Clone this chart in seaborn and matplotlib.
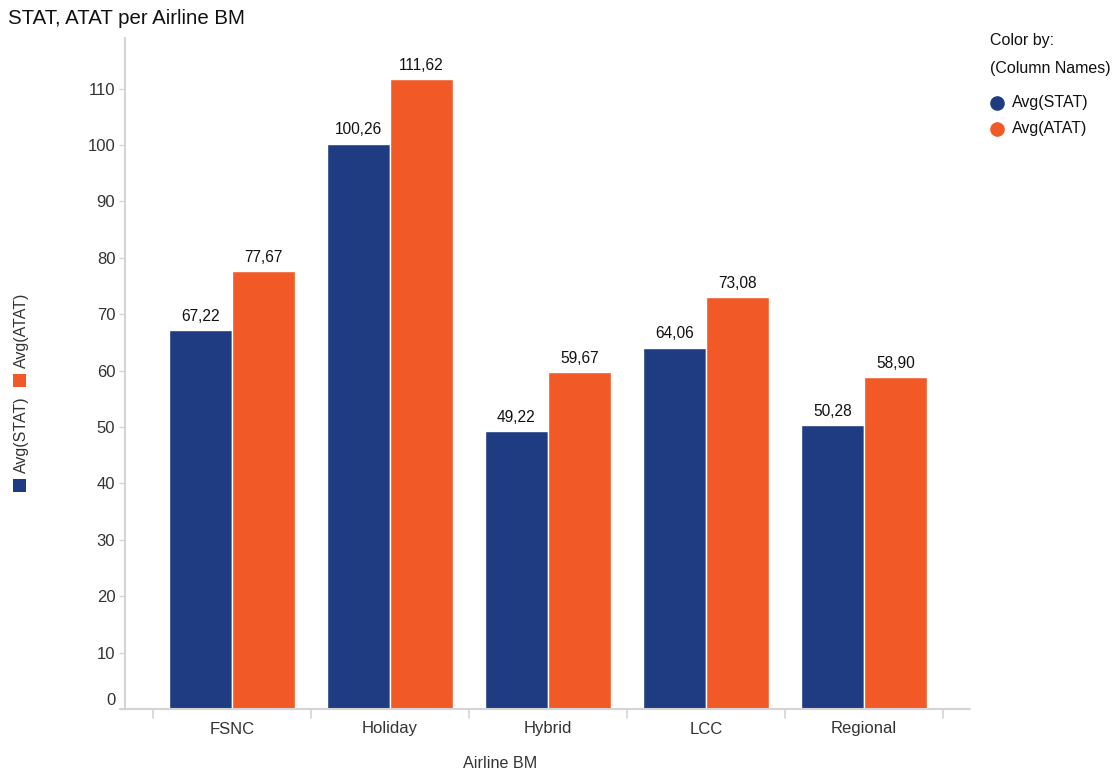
import matplotlib
matplotlib.use("Agg")
import matplotlib.pyplot as plt
import matplotlib.transforms as mtransforms
from matplotlib.lines import Line2D
from matplotlib.patches import Rectangle
import seaborn as sns
import pandas as pd

# Data
categories = ["FSNC", "Holiday", "Hybrid", "LCC", "Regional"]
avg_stat = [67.22, 100.26, 49.22, 64.06, 50.28]
avg_atat = [77.67, 111.62, 59.67, 73.08, 58.90]
series_names = ["Avg(STAT)", "Avg(ATAT)"]
y_ticks = list(range(0, 111, 10))

navy = "#1F3C82"
orange = "#F15A26"
text_col = "#333333"
axis_col = "#D4D4D4"

df = pd.DataFrame({
    "Airline BM": categories * 2,
    "Series": [series_names[0]] * len(categories) + [series_names[1]] * len(categories),
    "Value": avg_stat + avg_atat,
})

sns.set_style("white")
plt.rcParams["font.family"] = ["Liberation Sans", "DejaVu Sans"]

W, H = 1118, 769
fig = plt.figure(figsize=(W / 100, H / 100), dpi=100)
# axes: left edge at y-axis line, bottom at x-axis line
left, right, top, bottom = 125, 970, 38, 709
ax = fig.add_axes([left / W, 1 - bottom / H, (right - left) / W, (bottom - top) / H])

sns.barplot(data=df, x="Airline BM", y="Value", hue="Series",
            palette=[navy, orange], order=categories, hue_order=series_names,
            width=0.8, edgecolor="white", linewidth=1.0, saturation=1,
            legend=False, ax=ax)

# x range in category units: boundary ticks at -0.5 .. 4.5
px_per_cat = (943 - 153) / 5
x0 = -0.5 - (153 - left) / px_per_cat
x1 = 4.5 + (right - 943) / px_per_cat
ax.set_xlim(x0, x1)
ax.set_ylim(0, (bottom - top) / 5.64)

# value labels with decimal comma
for cont in ax.containers:
    for bar in cont:
        h = bar.get_height()
        ax.annotate(f"{h:.2f}".replace(".", ","),
                    (bar.get_x() + bar.get_width() / 2, h),
                    xytext=(0, 4.5), textcoords="offset points",
                    ha="center", va="bottom", fontsize=11.2, color="#111111")

# spines and ticks
for s in ["top", "right", "bottom"]:
    ax.spines[s].set_visible(False)
ax.spines["left"].set_color(axis_col)
ax.spines["left"].set_linewidth(1.5)

ax.set_yticks(y_ticks)
ax.set_yticklabels([str(t) for t in y_ticks])
ax.tick_params(axis="y", length=4, width=1, color=axis_col,
               labelsize=12, pad=3, left=True, labelcolor=text_col)
# lift the "0" label off the axis line
zero_lbl = ax.get_yticklabels()[0]
zero_lbl.set_transform(zero_lbl.get_transform() +
                       mtransforms.ScaledTranslation(0, 7 / 72, fig.dpi_scale_trans))

# x axis: baseline and category boundary ticks
ax.set_xticks(range(len(categories)))
ax.set_xticklabels(categories)
ax.tick_params(axis="x", length=0, labelsize=12, labelcolor=text_col, pad=9)
ax.set_xlabel("")
ax.set_ylabel("")
base = Line2D([(120 - left) / (right - left), 1], [0, 0], transform=ax.transAxes,
              color=axis_col, lw=1.5, clip_on=False)
ax.add_artist(base)
for b in [i - 0.5 for i in range(len(categories) + 1)]:
    ax.add_artist(Line2D([b, b], [0, -9 / (bottom - top)],
                         transform=ax.get_xaxis_transform(),
                         color=axis_col, lw=1.2, clip_on=False))

# title and x label
fig.text(8 / W, 1 - 19 / H, "STAT, ATAT per Airline BM", fontsize=14.7,
         color="#111111", ha="left", va="center")
fig.text(500 / W, 1 - 763 / H, "Airline BM", fontsize=11.6, color=text_col,
         ha="center", va="center")

# rotated y label with colour keys
sq = 13
fig.add_artist(Rectangle((13 / W, 1 - 492 / H), sq / W, sq / H,
                         transform=fig.transFigure, facecolor=navy, edgecolor="none"))
fig.text(21 / W, 1 - 473 / H, "Avg(STAT)", rotation=90, fontsize=11.5,
         color=text_col, ha="center", va="bottom", rotation_mode="default")
fig.add_artist(Rectangle((13 / W, 1 - 387 / H), sq / W, sq / H,
                         transform=fig.transFigure, facecolor=orange, edgecolor="none"))
fig.text(21 / W, 1 - 368 / H, "Avg(ATAT)", rotation=90, fontsize=11.5,
         color=text_col, ha="center", va="bottom", rotation_mode="default")

# legend block on the right
fig.text(990 / W, 1 - 41 / H, "Color by:", fontsize=11.5, color="#111111",
         ha="left", va="center")
fig.text(990 / W, 1 - 68 / H, "(Column Names)", fontsize=11.5, color="#111111",
         ha="left", va="center")
for yy, col, name in [(103, navy, series_names[0]), (129, orange, series_names[1])]:
    fig.add_artist(Line2D([997 / W], [1 - yy / H], transform=fig.transFigure,
                          marker="o", markersize=9.5, color=col, linestyle="none"))
    fig.text(1012 / W, 1 - yy / H, name, fontsize=11.5, color="#111111",
             ha="left", va="center")

fig.savefig("out.png", dpi=100, facecolor="white")
